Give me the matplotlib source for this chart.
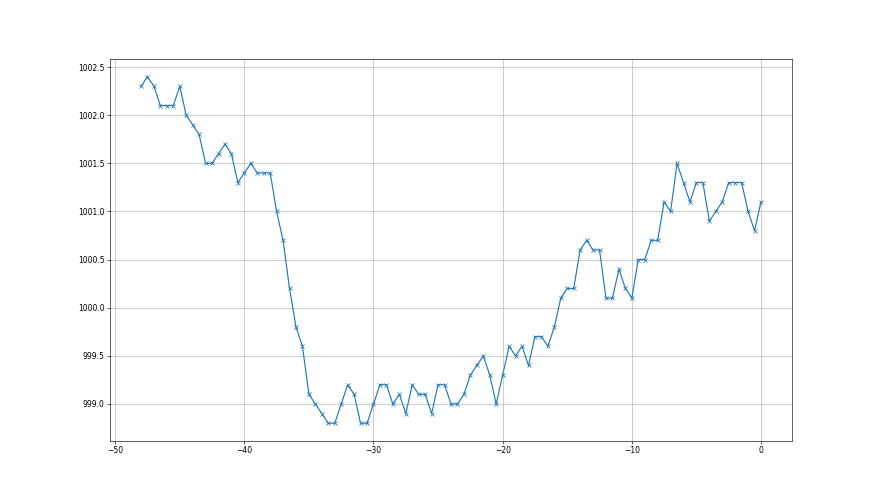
"""
Pressure trace over the last 48 hours, sampled every half hour.
"""

import numpy as np
import matplotlib
matplotlib.use("Agg")
import matplotlib.pyplot as plt


# hours relative to now
hours = np.arange(-48, 0.5, 0.5)

# pressure readings (hPa), one per half hour
pressure = [
    1002.3, 1002.4, 1002.3, 1002.1, 1002.1, 1002.1, 1002.3, 1002.0, 1001.9, 1001.8,
    1001.5, 1001.5, 1001.6, 1001.7, 1001.6, 1001.3, 1001.4, 1001.5, 1001.4, 1001.4,
    1001.4, 1001.0, 1000.7, 1000.2, 999.8, 999.6, 999.1, 999.0, 998.9, 998.8,
    998.8, 999.0, 999.2, 999.1, 998.8, 998.8, 999.0, 999.2, 999.2, 999.0,
    999.1, 998.9, 999.2, 999.1, 999.1, 998.9, 999.2, 999.2, 999.0, 999.0,
    999.1, 999.3, 999.4, 999.5, 999.3, 999.0, 999.3, 999.6, 999.5, 999.6,
    999.4, 999.7, 999.7, 999.6, 999.8, 1000.1, 1000.2, 1000.2, 1000.6, 1000.7,
    1000.6, 1000.6, 1000.1, 1000.1, 1000.4, 1000.2, 1000.1, 1000.5, 1000.5, 1000.7,
    1000.7, 1001.1, 1001.0, 1001.5, 1001.3, 1001.1, 1001.3, 1001.3, 1000.9, 1001.0,
    1001.1, 1001.3, 1001.3, 1001.3, 1001.0, 1000.8, 1001.1,
]


fig, ax = plt.subplots(figsize=(16, 9), dpi=55)

ax.plot(hours, pressure, marker="x", color="C0")
ax.grid(True)

fig.savefig("out.png", dpi=55)
